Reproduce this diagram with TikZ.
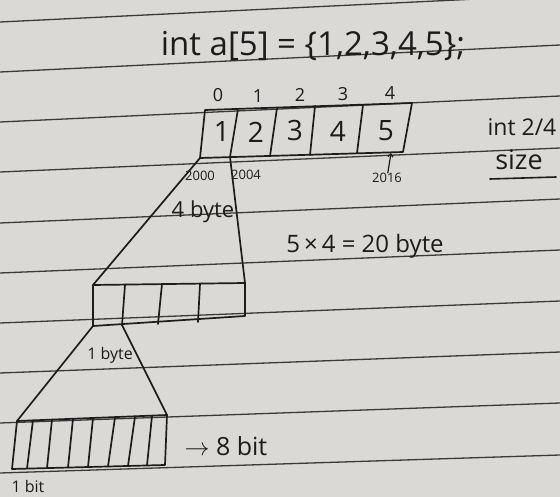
\documentclass[tikz,border=0pt]{standalone}
\usepackage{fontspec}
\setmainfont{Open Sans}
\usetikzlibrary{arrows.meta}
\definecolor{papel}{HTML}{DAD9D5}
\definecolor{tinta}{HTML}{1C1C1C}
\definecolor{renglon}{HTML}{3A3A3A}

\begin{document}
\begin{tikzpicture}[x=1pt, y=-1pt,
      mano/.style={text=tinta, inner sep=0pt, font=\fontsize{#1}{#1}\selectfont},
      caja/.style={draw=tinta, line width=1.7pt, line join=round, line cap=round},
      fina/.style={draw=tinta, line width=1.2pt, line cap=round}]
    \fill[papel] (0,0) rectangle (560,497);
    \useasboundingbox (0,0) rectangle (560,497);
    \begin{scope}
      \clip (0,0) rectangle (560,497);
      \foreach \l/\r in {22/-5, 72/45, 122/96, 172/148, 223/199, 273/250, 323/301, 373/352, 423/403, 473/455}
        \draw[renglon, line width=1.3pt] (0,\l) -- (560,\r);
    \end{scope}

    \node[mano=33] (titulo) at (313,46) {int a[5] = \{1,2,3,4,5\};};

    % arreglo de 5 enteros
    \foreach \i/\xt/\yt/\xb/\yb in {0/205/110/200/158, 1/238/109/230/157, 2/277/108/270/156,
                                    3/315/106/310/155, 4/363/105/357/153, 5/412/103/403/152} {
      \coordinate (t\i) at (\xt,\yt);
      \coordinate (b\i) at (\xb,\yb);
    }
    \draw[caja] (t0) -- (t5) -- (b5) -- (b0) -- cycle;
    \foreach \i in {1,...,4}
      \draw[caja] (t\i) -- (b\i);
    \foreach \i/\x/\y/\v in {1/222/132/1, 2/256/132/2, 3/295/131/3, 4/338/131/4, 5/386/131/5}
      \node[mano=28] (v\i) at (\x,\y) {\v};
    \foreach \i/\x/\y in {0/218/95, 1/258/96, 2/300/95, 3/343/94, 4/390/93}
      \node[mano=18] (i\i) at (\x,\y) {\i};

    \node[mano=13] (d00) at (200,176) {2000};
    \node[mano=13] (d04) at (246,175) {2004};
    \node[mano=13] (d16) at (387,178) {2016};
    \coordinate (flecha) at (391,153);
    \draw[fina, -{Straight Barb[length=3pt,width=5pt]}] (d16) -- (flecha);

    \node[mano=23] (tam)  at (522,127) {int 2/4};
    \node[mano=27] (size) at (519,160) {size};
    \coordinate (s1) at (490,179);
    \coordinate (s2) at (556,177);
    \draw[fina, line width=1.6pt] (s1) -- (s2);

    % un entero: 4 bytes
    \foreach \i/\xt/\yt/\xb/\yb in {0/93/285/93/326, 1/125/285/122/325, 2/162/284/158/324,
                                    3/200/284/198/322, 4/245/283/245/316} {
      \coordinate (k\i) at (\xt,\yt);
      \coordinate (m\i) at (\xb,\yb);
    }
    \draw[caja] (k0) -- (k4) -- (m4) -- (m0) -- cycle;
    \foreach \i in {1,2,3}
      \draw[caja] (k\i) -- (m\i);
    \draw[caja] (b0) -- (k0);
    \draw[caja] (b1) -- (k4);
    \node[mano=22] (cuatro) at (203,212) {4 byte};
    \node[mano=24] (total)  at (365,246) {5\,×\,4 = 20 byte};

    % un byte: 8 bits
    \foreach \i/\xt/\xb in {0/17/12, 1/33/27, 2/52/47, 3/73/68, 4/93/88,
                            5/115/108, 6/135/128, 7/152/147, 8/167/165} {
      \coordinate (p\i) at (\xt,{421-6*\i/8});
      \coordinate (q\i) at (\xb,{469-4*\i/8});
    }
    \draw[caja] (p0) -- (p8) -- (q8) -- (q0) -- cycle;
    \foreach \i in {1,...,7}
      \draw[caja] (p\i) -- (q\i);
    \draw[caja] (m0) -- (p0);
    \draw[caja] (m1) -- (p8);
    \node[mano=16] (unbyte) at (110,355) {1 byte};
    \node[mano=25] (ocho)   at (226,446) {$\rightarrow$ 8 bit};
    \node[mano=16] (unbit)  at (28,486)  {1 bit};
  \end{tikzpicture}
\end{document}
